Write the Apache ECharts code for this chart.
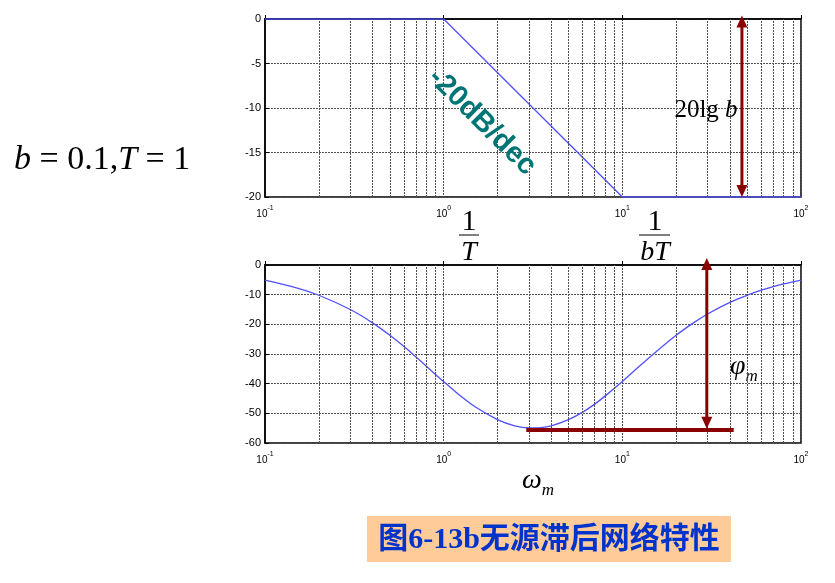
<!DOCTYPE html>
<html>
<head>
<meta charset="utf-8">
<script src="https://cdn.jsdelivr.net/npm/echarts@6/dist/echarts.min.js"></script>
<style>
  html, body { margin: 0; background: #fff; }
  #main { width: 835px; height: 583px; }
</style>
</head>
<body>
<div id="main"></div>
<script>
// 幅频特性（渐近线）
const gainW = [0.1, 1, 10, 100];
const gainDb = [0, 0, -20, -20];
// 相频特性
const phaseW = [0.1, 0.15, 0.2, 0.3, 0.4, 0.5, 0.6, 0.7, 0.8, 0.9, 1, 1.2, 1.5, 2, 2.5, 3, 3.5, 4, 5, 6, 7, 8, 10, 12, 15, 20, 25, 30, 40, 50, 60, 70, 80, 100];
const phaseDeg = [-5.1, -7.7, -10.2, -15, -19.5, -23.7, -27.5, -31, -34.1, -36.9, -39.3, -43.4, -47.8, -52.1, -54.2, -54.9, -54.8, -54.2, -52.1, -49.6, -46.9, -44.2, -39.3, -35, -29.9, -23.7, -19.5, -16.5, -12.6, -10.2, -8.5, -7.3, -6.4, -5.1];
// 对数刻度的次网格线
const minorW = [0.2, 0.3, 0.4, 0.5, 0.6, 0.7, 0.8, 0.9, 2, 3, 4, 5, 6, 7, 8, 9, 20, 30, 40, 50, 60, 70, 80, 90];
// 标注：双向箭头 [ω, 上端, 下端]，ωm 水平线
const gainArrow = [[46.7, 0.4, -20]];
const phaseArrow = [[29.7, 2.4, -55.2]];
const omegaBar = [[2.9, -55.7], [42, -55.7]];

const chart = echarts.init(document.getElementById('main'));

const tickFont = 'Liberation Sans';
const serif = 'Liberation Serif';
const blue = '#5050ff';
const darkRed = '#8b0000';
const gridColor = '#505050';

function xAxisOf(gridIndex) {
  return {
    type: 'log',
    logBase: 10,
    gridIndex: gridIndex,
    min: 0.1,
    max: 100,
    axisLine: { lineStyle: { color: '#000', width: 1.5 } },
    axisTick: { inside: true, length: 4, lineStyle: { color: '#000' } },
    axisLabel: {
      margin: 8,
      formatter: v => '{b|10}{s|' + Math.round(Math.log10(v)) + '}',
      rich: {
        b: { fontSize: 10, fontFamily: tickFont, color: '#000', lineHeight: 14, verticalAlign: 'bottom' },
        s: { fontSize: 7, fontFamily: tickFont, color: '#000', lineHeight: 14, verticalAlign: 'top' }
      }
    },
    splitLine: { show: true, lineStyle: { color: gridColor, type: [2, 1], width: 1 } }
  };
}

function yAxisOf(gridIndex, min, interval) {
  return {
    type: 'value',
    gridIndex: gridIndex,
    min: min,
    max: 0,
    interval: interval,
    axisLine: { show: true, lineStyle: { color: '#000', width: 1.5 } },
    axisTick: { show: true, inside: true, length: 4, lineStyle: { color: '#000' } },
    axisLabel: { margin: 4, fontSize: 11, fontFamily: tickFont, color: '#000' },
    splitLine: { show: true, lineStyle: { color: gridColor, type: [2, 1], width: 1 } }
  };
}

function minorGrid(idx) {
  return {
    type: 'line',
    xAxisIndex: idx,
    yAxisIndex: idx,
    data: [],
    silent: true,
    markLine: {
      silent: true,
      symbol: 'none',
      label: { show: false },
      lineStyle: { color: gridColor, type: [2, 1], width: 1 },
      data: minorW.map(w => ({ xAxis: w }))
    }
  };
}

// 双向箭头（自定义系列，端点可以略超出坐标区）
function arrowSeries(idx, rows) {
  return {
    type: 'custom',
    xAxisIndex: idx,
    yAxisIndex: idx,
    silent: true,
    z: 6,
    data: rows,
    renderItem: (params, api) => {
      const top = api.coord([api.value(0), api.value(1)]);
      const bot = api.coord([api.value(0), api.value(2)]);
      const x = top[0], hw = 5.5, hl = 12;
      return {
        type: 'group',
        children: [
          { type: 'line', shape: { x1: x, y1: top[1] + hl - 1, x2: x, y2: bot[1] - hl + 1 }, style: { stroke: darkRed, lineWidth: 3 } },
          { type: 'polygon', shape: { points: [[x, top[1]], [x - hw, top[1] + hl], [x + hw, top[1] + hl]] }, style: { fill: darkRed } },
          { type: 'polygon', shape: { points: [[x, bot[1]], [x - hw, bot[1] - hl], [x + hw, bot[1] - hl]] }, style: { fill: darkRed } }
        ]
      };
    }
  };
}

const option = {
  animation: false,
  backgroundColor: '#fff',
  grid: [
    { left: 265, top: 19, width: 536, height: 178, show: true, borderColor: '#000', borderWidth: 1.5 },
    { left: 265, top: 265, width: 536, height: 178, show: true, borderColor: '#000', borderWidth: 1.5 }
  ],
  xAxis: [xAxisOf(0), xAxisOf(1)],
  yAxis: [yAxisOf(0, -20, 5), yAxisOf(1, -60, 10)],
  series: [
    minorGrid(0),
    minorGrid(1),
    {
      type: 'line',
      xAxisIndex: 0,
      yAxisIndex: 0,
      showSymbol: false,
      z: 4,
      lineStyle: { color: blue, width: 1.3 },
      data: gainW.map((w, i) => [w, gainDb[i]])
    },
    {
      type: 'line',
      xAxisIndex: 1,
      yAxisIndex: 1,
      showSymbol: false,
      smooth: 0.3,
      z: 4,
      lineStyle: { color: blue, width: 1.3 },
      data: phaseW.map((w, i) => [w, phaseDeg[i]])
    },
    arrowSeries(0, gainArrow),
    arrowSeries(1, phaseArrow),
    {
      type: 'line',
      xAxisIndex: 1,
      yAxisIndex: 1,
      data: [],
      silent: true,
      z: 5,
      markLine: {
        silent: true,
        symbol: 'none',
        label: { show: false },
        lineStyle: { color: darkRed, type: 'solid', width: 4 },
        data: [[{ coord: omegaBar[0] }, { coord: omegaBar[1] }]]
      }
    }
  ],
  graphic: [
    {
      type: 'text', x: 14, y: 160,
      style: {
        text: '{i|b}{n| = 0.1,}{i|T}{n| = 1}',
        verticalAlign: 'middle',
        rich: {
          i: { fontSize: 34, fontFamily: serif, fontStyle: 'italic', fill: '#000' },
          n: { fontSize: 34, fontFamily: serif, fill: '#000' }
        }
      }
    },
    {
      type: 'text', x: 482, y: 122, rotation: -0.78, z: 10,
      style: {
        text: '-20dB/dec', align: 'center', verticalAlign: 'middle',
        fontSize: 29, fontWeight: 'bold', fontFamily: tickFont, fill: '#007575'
      }
    },
    {
      type: 'text', x: 706, y: 110, z: 10,
      style: {
        text: '{n|20lg}{i| b}', align: 'center', verticalAlign: 'middle',
        rich: {
          n: { fontSize: 25, fontFamily: serif, fill: '#000' },
          i: { fontSize: 25, fontFamily: serif, fontStyle: 'italic', fill: '#000' }
        }
      }
    },
    { type: 'text', x: 469, y: 222, style: { text: '1', align: 'center', verticalAlign: 'middle', fontSize: 30, fontFamily: serif, fill: '#000' } },
    { type: 'line', shape: { x1: 459, y1: 235, x2: 479, y2: 235 }, style: { stroke: '#000', lineWidth: 1 } },
    { type: 'text', x: 469, y: 253, style: { text: 'T', align: 'center', verticalAlign: 'middle', fontSize: 28, fontStyle: 'italic', fontFamily: serif, fill: '#000' } },
    { type: 'text', x: 655, y: 222, style: { text: '1', align: 'center', verticalAlign: 'middle', fontSize: 30, fontFamily: serif, fill: '#000' } },
    { type: 'line', shape: { x1: 639, y1: 235, x2: 670, y2: 235 }, style: { stroke: '#000', lineWidth: 1 } },
    { type: 'text', x: 655, y: 253, style: { text: 'bT', align: 'center', verticalAlign: 'middle', fontSize: 28, fontStyle: 'italic', fontFamily: serif, fill: '#000' } },
    {
      type: 'text', x: 538, y: 483,
      style: {
        text: '{w|ω}{m|m}', align: 'center', verticalAlign: 'middle',
        rich: {
          w: { fontSize: 28, fontFamily: serif, fontStyle: 'italic', fill: '#000', lineHeight: 32, verticalAlign: 'top' },
          m: { fontSize: 17, fontFamily: serif, fontStyle: 'italic', fill: '#000', lineHeight: 32, verticalAlign: 'bottom' }
        }
      }
    },
    {
      type: 'text', x: 744, y: 369,
      style: {
        text: '{w|φ}{m|m}', align: 'center', verticalAlign: 'middle',
        rich: {
          w: { fontSize: 28, fontFamily: serif, fontStyle: 'italic', fill: '#000', lineHeight: 32, verticalAlign: 'top' },
          m: { fontSize: 17, fontFamily: serif, fontStyle: 'italic', fill: '#000', lineHeight: 32, verticalAlign: 'bottom' }
        }
      }
    },
    { type: 'rect', shape: { x: 367, y: 516, width: 364, height: 46 }, style: { fill: '#ffcc99' } },
    {
      type: 'text', x: 549, y: 540, z: 10,
      style: {
        text: '图6-13b无源滞后网络特性', align: 'center', verticalAlign: 'middle',
        fontSize: 30, fontWeight: 'bold', fontFamily: '"Liberation Serif", "Noto Sans CJK SC"', fill: '#0033cc'
      }
    }
  ]
};

chart.setOption(option);
</script>
</body>
</html>
